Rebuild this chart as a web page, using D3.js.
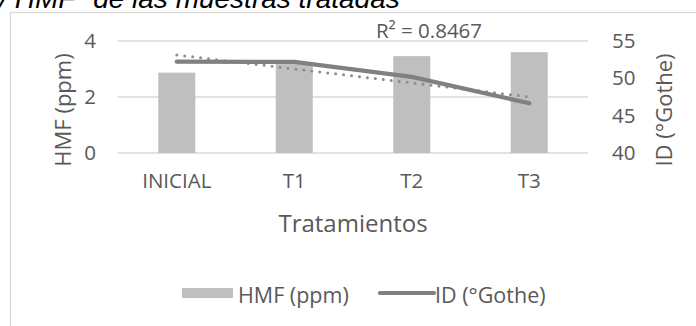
<!DOCTYPE html>
<html>
<head>
<meta charset="utf-8">
<script src="https://cdn.jsdelivr.net/npm/d3@7"></script>
<style>
  html, body { margin: 0; padding: 0; background: #fff; }
  svg { display: block; }
</style>
</head>
<body>
<svg id="chart" width="696" height="326"></svg>
<script>
// Categories and series
const categories = ["INICIAL", "T1", "T2", "T3"];
const hmfValues = [2.87, 3.2, 3.46, 3.6];      // HMF (ppm), bars, left axis
const idValues = [52.23, 52.2, 50.2, 46.66];  // ID (°Gothe), line, right axis
const leftTicks = [0, 2, 4];
const rightTicks = [40, 45, 50, 55];
const r2Label = "R² = 0.8467";
const titleText = "y HMF\" de las muestras tratadas";

const svg = d3.select("#chart");
const W = 696, H = 326;
const plot = { left: 118, right: 588, top: 41, bottom: 153 };
const textColor = "#595959";
const font = "'Open Sans', sans-serif";

// Chart frame
svg.append("rect")
  .attr("x", 10.5).attr("y", 12.5)
  .attr("width", W + 10).attr("height", H + 10)
  .attr("fill", "#fff").attr("stroke", "#d9d9d9").attr("stroke-width", 1.3);

// Caption line above the frame (runs off the top edge)
svg.append("text")
  .attr("x", -7).attr("y", 8)
  .attr("font-family", "'Liberation Sans', Arial, sans-serif")
  .attr("font-style", "italic")
  .attr("font-size", 28)
  .attr("fill", "#000")
  .text(titleText);

// Scales
const x = d3.scaleBand().domain(categories).range([plot.left, plot.right]).padding(0);
const yL = d3.scaleLinear().domain([0, 4]).range([plot.bottom, plot.top]);
const yR = d3.scaleLinear().domain([40, 55]).range([plot.bottom, plot.top]);
const barW = x.bandwidth() * 0.315;

// Gridlines (left axis)
svg.append("g").selectAll("line").data(leftTicks).join("line")
  .attr("x1", plot.left).attr("x2", plot.right)
  .attr("y1", d => yL(d)).attr("y2", d => yL(d))
  .attr("stroke", "#d9d9d9").attr("stroke-width", 1.3);

// Bars
svg.append("g").selectAll("rect").data(categories).join("rect")
  .attr("x", d => x(d) + x.bandwidth() / 2 - barW / 2)
  .attr("width", barW)
  .attr("y", (d, i) => yL(hmfValues[i]))
  .attr("height", (d, i) => yL(0) - yL(hmfValues[i]))
  .attr("fill", "#bfbfbf");

// Linear trendline of the ID series
const xs = categories.map((d, i) => i + 1);
const mx = d3.mean(xs), my = d3.mean(idValues);
const slope = d3.sum(xs, (v, i) => (v - mx) * (idValues[i] - my)) / d3.sum(xs, v => (v - mx) ** 2);
const intercept = my - slope * mx;
const cx = i => x(categories[i]) + x.bandwidth() / 2;

svg.append("line")
  .attr("x1", cx(0)).attr("y1", yR(intercept + slope * 1))
  .attr("x2", cx(3)).attr("y2", yR(intercept + slope * 4))
  .attr("stroke", "#8c8c8c").attr("stroke-width", 3)
  .attr("stroke-linecap", "round")
  .attr("stroke-dasharray", "0 8");

// ID line
const line = d3.line().x((d, i) => cx(i)).y(d => yR(d));
svg.append("path")
  .datum(idValues)
  .attr("d", line)
  .attr("fill", "none")
  .attr("stroke", "#808080").attr("stroke-width", 4.2)
  .attr("stroke-linecap", "round").attr("stroke-linejoin", "round");

// Left axis
const axL = svg.append("g").attr("transform", `translate(${plot.left},0)`)
  .call(d3.axisLeft(yL).tickValues(leftTicks).tickSize(0).tickPadding(22).tickFormat(d3.format("d")));
axL.select(".domain").remove();
axL.selectAll("text").attr("font-family", font).attr("font-size", 20.5).attr("fill", textColor);

// Right axis
const axR = svg.append("g").attr("transform", `translate(${plot.right},0)`)
  .call(d3.axisRight(yR).tickValues(rightTicks).tickSize(0).tickPadding(24).tickFormat(d3.format("d")));
axR.select(".domain").remove();
axR.selectAll("text").attr("font-family", font).attr("font-size", 20.5).attr("fill", textColor);

// Category axis
const axB = svg.append("g").attr("transform", `translate(0,${plot.bottom})`)
  .call(d3.axisBottom(x).tickSize(0).tickPadding(20));
axB.select(".domain").remove();
axB.selectAll("text").attr("font-family", font).attr("font-size", 20.5).attr("fill", textColor);

// Axis titles
svg.append("text")
  .attr("transform", "translate(71,110) rotate(-90)")
  .attr("text-anchor", "middle")
  .attr("font-family", font).attr("font-size", 22).attr("fill", textColor)
  .text("HMF (ppm)");
svg.append("text")
  .attr("transform", "translate(672,110) rotate(-90)")
  .attr("text-anchor", "middle")
  .attr("font-family", font).attr("font-size", 22).attr("fill", textColor)
  .text("ID (°Gothe)");
svg.append("text")
  .attr("x", 353).attr("y", 232)
  .attr("text-anchor", "middle")
  .attr("font-family", font).attr("font-size", 24).attr("fill", textColor)
  .text("Tratamientos");

// R² label
svg.append("text")
  .attr("x", 429).attr("y", 38)
  .attr("text-anchor", "middle")
  .attr("font-family", font).attr("font-size", 20.5).attr("fill", textColor)
  .text(r2Label);

// Legend
const leg = svg.append("g");
leg.append("rect").attr("x", 182).attr("y", 288).attr("width", 51).attr("height", 10).attr("fill", "#bfbfbf");
leg.append("text").attr("x", 238).attr("y", 303)
  .attr("font-family", font).attr("font-size", 21.5).attr("fill", textColor).text("HMF (ppm)");
leg.append("line").attr("x1", 380).attr("x2", 434).attr("y1", 293).attr("y2", 293)
  .attr("stroke", "#808080").attr("stroke-width", 4.2).attr("stroke-linecap", "round");
leg.append("text").attr("x", 435).attr("y", 303)
  .attr("font-family", font).attr("font-size", 21.5).attr("fill", textColor).text("ID (°Gothe)");
</script>
</body>
</html>
